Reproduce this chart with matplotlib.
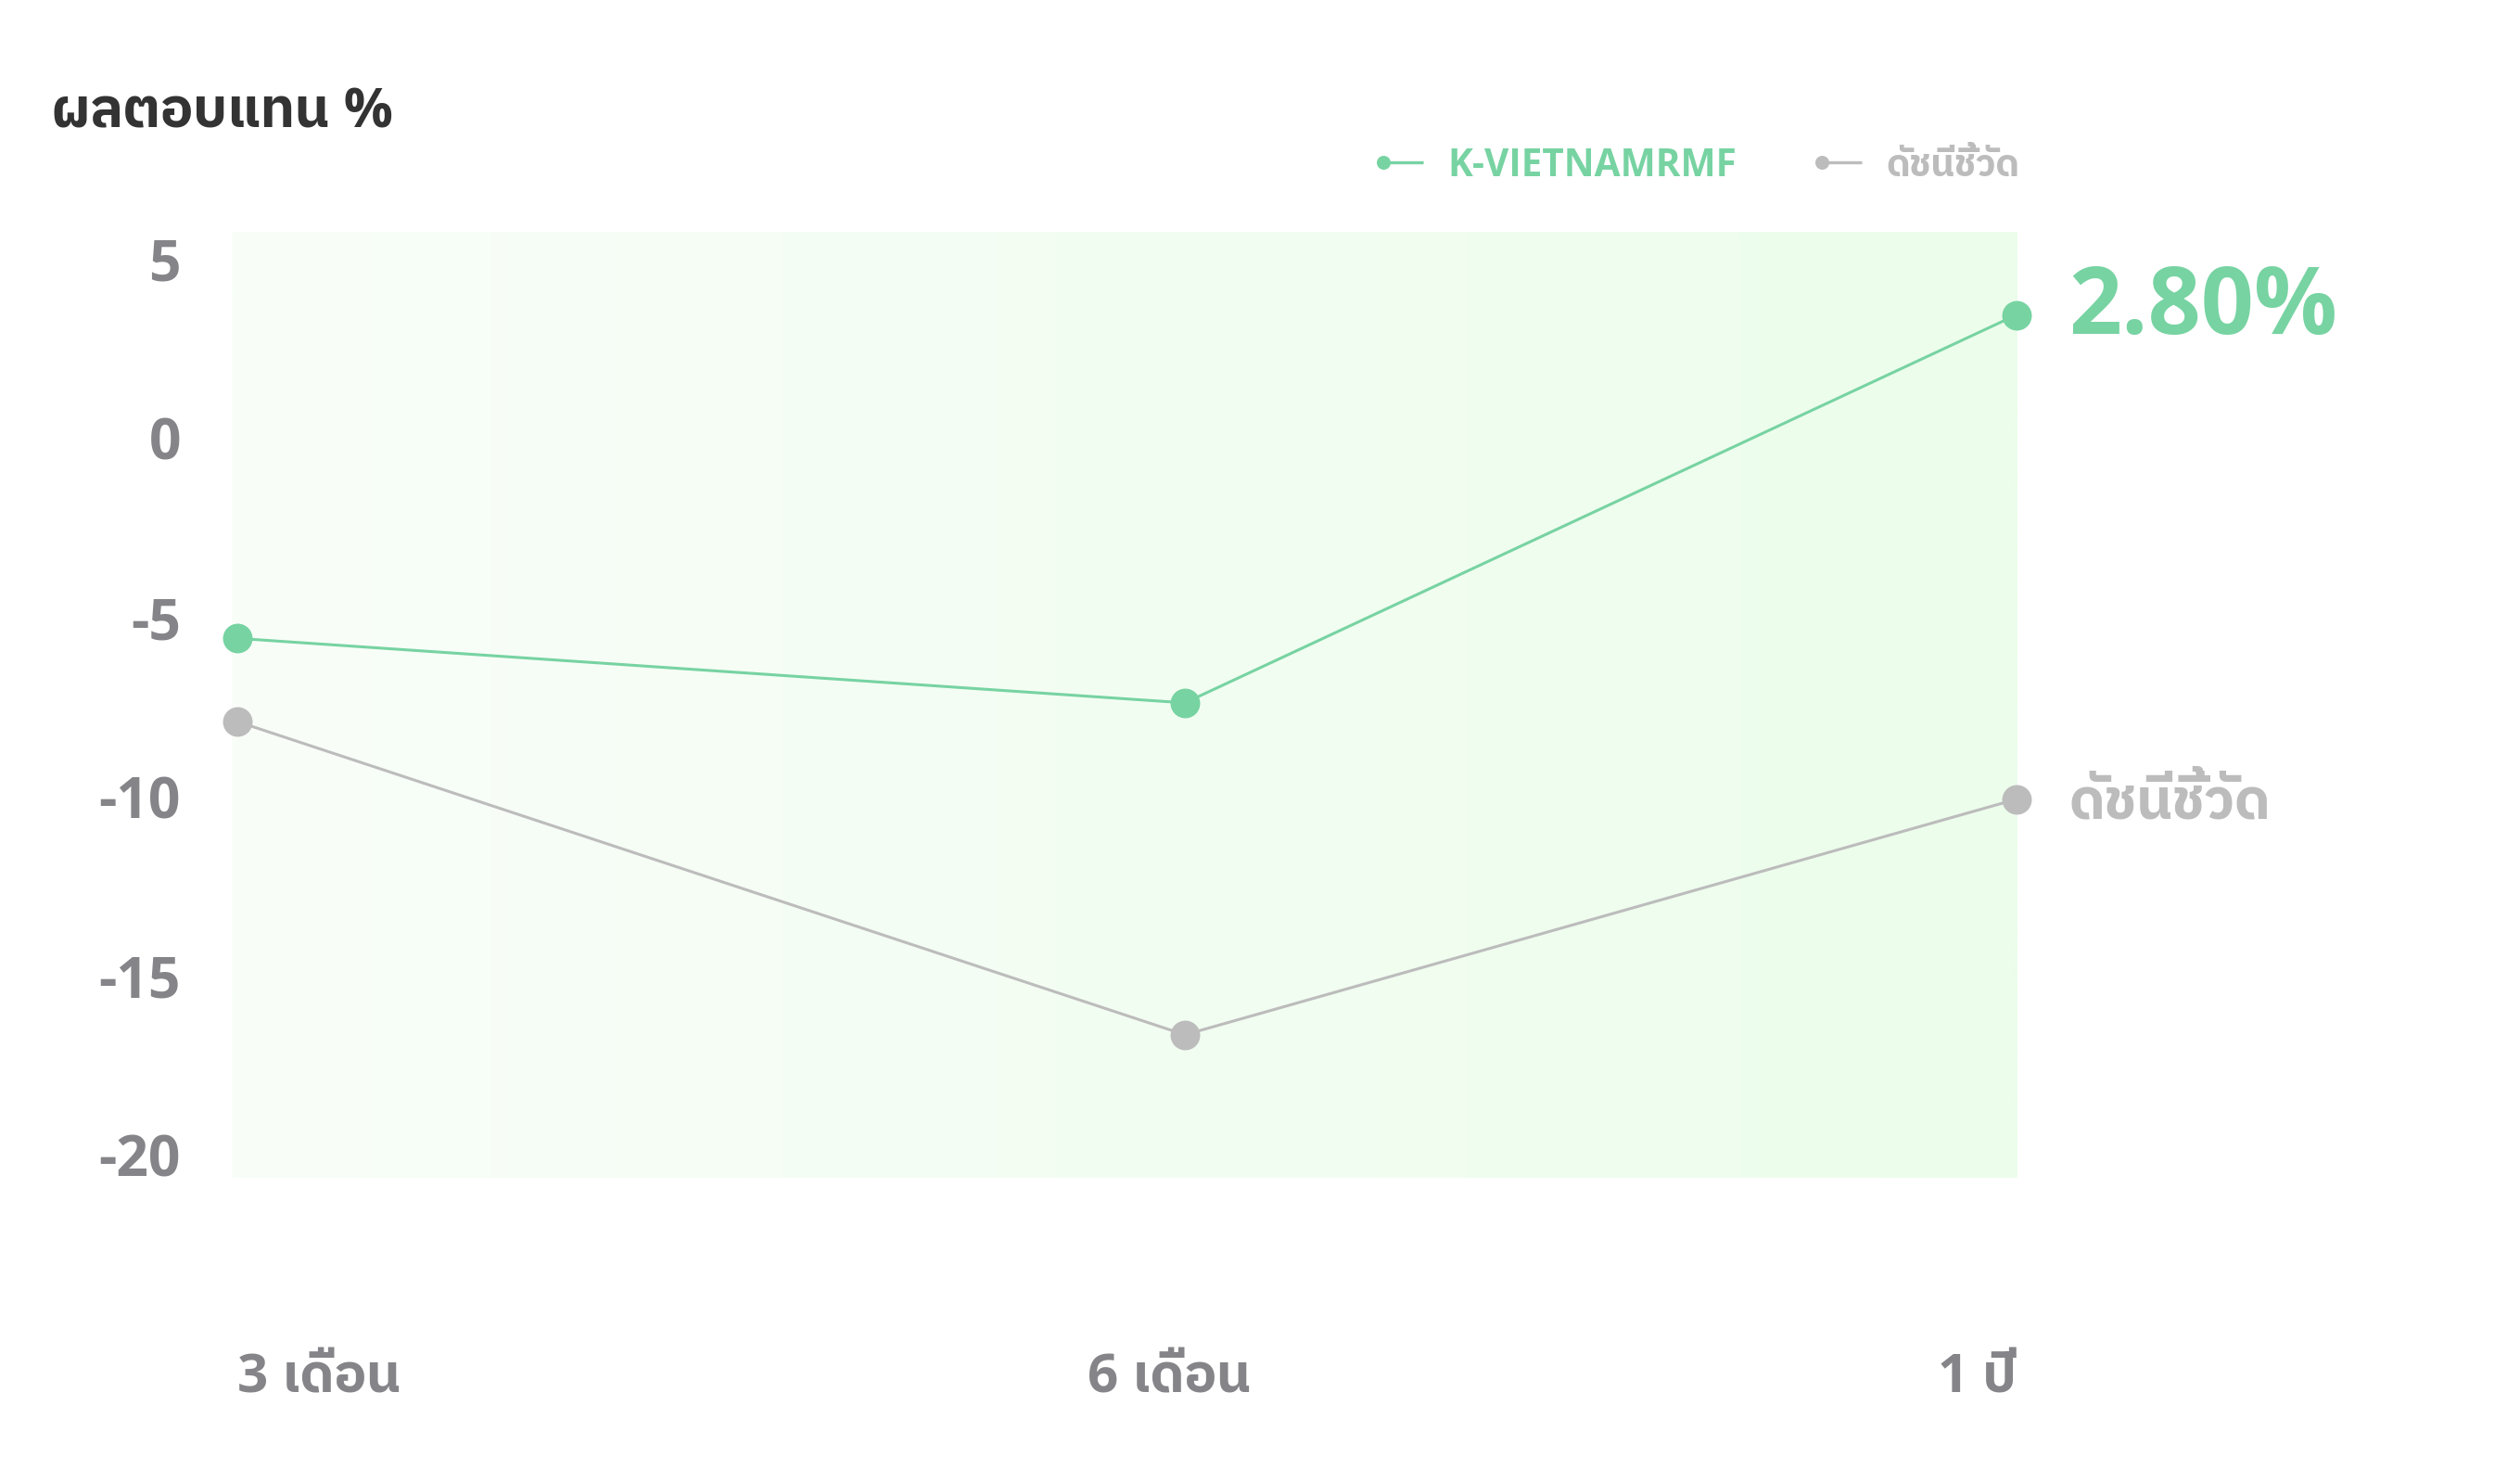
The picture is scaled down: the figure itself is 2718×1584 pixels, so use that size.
import matplotlib
matplotlib.use('Agg')
import matplotlib.pyplot as plt
from matplotlib import font_manager as fm
from matplotlib.lines import Line2D
from matplotlib.legend_handler import HandlerLine2D
import matplotlib.transforms as mtransforms
import numpy as np

# ---------------- data ----------------
periods = ['3 เดือน', '6 เดือน', '1 ปี']
fund_name = 'K-VIETNAMRMF'
bench_name = 'ดัชนีชี้วัด'
fund_returns = [-6.22, -8.02, 2.80]
bench_returns = [-8.54, -17.28, -10.71]
y_ticks = [5, 0, -5, -10, -15, -20]
y_tick_labels = ['5', '0', '-5', '-10', '-15', '-20']
title_text = 'ผลตอบแทน %'

# category layout on the x axis
period_x = [0.0, 1.0, 1.877]

GREEN = '#77d3a2'
GRAY = '#bcbcbc'
TICK = '#858589'

# ---------------- fonts ----------------


def _w(v):
    if isinstance(v, (int, float)):
        return v
    return {'bold': 700, 'semibold': 600, 'demibold': 600, 'heavy': 800,
            'extra bold': 800, 'black': 900}.get(str(v).lower(), 400)


bold_fams = {f.name for f in fm.fontManager.ttflist if _w(f.weight) >= 600}
thai = 'IBM Plex Sans Thai'
for cand in ['Noto Sans Thai', 'Noto Sans Thai UI', 'IBM Plex Sans Thai']:
    if cand in bold_fams:
        thai = cand
        break
plt.rcParams['font.family'] = ['Open Sans', thai, 'DejaVu Sans']

W, H, DPI = 2718, 1584, 200
fig = plt.figure(figsize=(W / DPI, H / DPI), dpi=DPI)
PT = DPI / 72.0


def fx(px):
    return px / W


def fy(py):
    return 1 - py / H


ax = fig.add_axes([fx(250), fy(1270), fx(2176) - fx(250), fy(250) - fy(1270)])
ax.set_xlim(-0.0056, 1.8784)
ax.set_ylim(-21.27, 5.12)

# gradient background
grad = np.linspace(0, 1, 256)
c0 = np.array([249, 254, 249]) / 255
c1 = np.array([236, 253, 235]) / 255
img = c0[None, :] * (1 - grad[:, None]) + c1[None, :] * grad[:, None]
ax.imshow(img[None, :, :], extent=(0, 1, 0, 1), transform=ax.transAxes,
          aspect='auto', zorder=0, interpolation='bilinear')
ax.set_facecolor('none')

ax.plot(period_x, bench_returns, color=GRAY, lw=1.1, marker='o', ms=11.5,
        mew=0, zorder=3, clip_on=False, label=bench_name)
ax.plot(period_x, fund_returns, color=GREEN, lw=1.1, marker='o', ms=11.5,
        mew=0, zorder=4, clip_on=False, label=fund_name)

for s in ax.spines.values():
    s.set_visible(False)

# y ticks
ax.set_yticks(y_ticks)
ax.set_yticklabels(y_tick_labels)
ax.tick_params(axis='y', length=0, pad=55 / PT, labelsize=21.8, labelcolor=TICK)
yoff = mtransforms.ScaledTranslation(0, -48.0 / DPI, fig.dpi_scale_trans)
for lab in ax.get_yticklabels():
    lab.set_fontweight('bold')
    lab.set_verticalalignment('baseline')
    lab.set_transform(lab.get_transform() + yoff)

# x ticks
ax.set_xticks(period_x)
ax.set_xticklabels(periods)
ax.tick_params(axis='x', length=0, pad=232 / PT, labelsize=21.0, labelcolor=TICK)
xshift = [0, -17, 0]
for lab, ha, dx in zip(ax.get_xticklabels(), ['left', 'center', 'right'], xshift):
    lab.set_fontweight('bold')
    lab.set_verticalalignment('baseline')
    lab.set_horizontalalignment(ha)
    if dx:
        lab.set_transform(lab.get_transform() + mtransforms.ScaledTranslation(
            dx / DPI, 0, fig.dpi_scale_trans))

# end labels
ax.annotate(f'{fund_returns[-1]:.2f}%', xy=(period_x[-1], fund_returns[-1]),
            xytext=(57 / PT, -20.5 / PT), textcoords='offset points',
            ha='left', va='baseline', fontsize=36, fontweight='bold', color=GREEN,
            annotation_clip=False)
ax.annotate(bench_name, xy=(period_x[-1], bench_returns[-1]),
            xytext=(57 / PT, -21 / PT), textcoords='offset points',
            ha='left', va='baseline', fontsize=22.0, fontweight='bold', color=GRAY,
            annotation_clip=False)

# title
fig.text(fx(56), fy(138), title_text, ha='left', va='baseline', fontsize=21.3,
         fontweight='bold', color='#333333')


# legend
class DotLeftHandler(HandlerLine2D):
    def create_artists(self, legend, orig_handle, xdescent, ydescent, width,
                       height, fontsize, trans):
        y = height / 2 - ydescent
        c = orig_handle.get_color()
        line = Line2D([-xdescent, width - xdescent], [y, y], color=c, lw=1.2,
                      solid_capstyle='butt')
        dot = Line2D([-xdescent], [y], marker='o', ms=5.4, mew=0, color=c,
                     linestyle='none')
        line.set_transform(trans)
        dot.set_transform(trans)
        return [line, dot]


handles = [Line2D([], [], color=GREEN), Line2D([], [], color=GRAY)]
leg = fig.legend(handles, [fund_name, bench_name], loc='center left',
                 bbox_to_anchor=(fx(1492), fy(179)), ncol=2, frameon=False,
                 handler_map={Line2D: DotLeftHandler()}, handlelength=1.06,
                 handletextpad=0.66, columnspacing=2.25, borderpad=0,
                 borderaxespad=0, prop={'size': 14.6, 'weight': 'bold'})
for t, c in zip(leg.get_texts(), [GREEN, GRAY]):
    t.set_color(c)

fig.savefig('out.png', dpi=DPI)
